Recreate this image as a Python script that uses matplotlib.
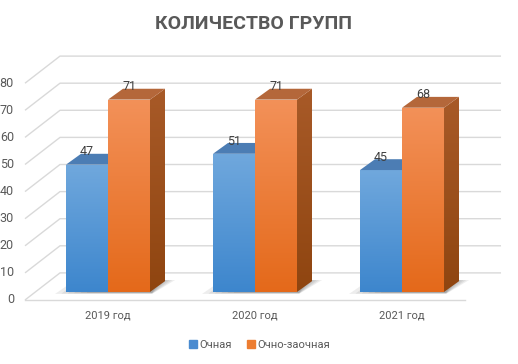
import numpy as np
import matplotlib
matplotlib.use("Agg")
import matplotlib.pyplot as plt
from matplotlib.patches import Polygon, Rectangle
from matplotlib.colors import LinearSegmentedColormap
from matplotlib.lines import Line2D

categories = ['2019 год', '2020 год', '2021 год']
series_names = ['Очная', 'Очно-заочная']
ochnaya = [47, 51, 45]
ochno_zaochnaya = [71, 71, 68]
y_ticks = [0, 10, 20, 30, 40, 50, 60, 70, 80]
title = 'КОЛИЧЕСТВО ГРУПП'

plt.rcParams['font.family'] = ['Roboto', 'DejaVu Sans']

fig = plt.figure(figsize=(5.18, 3.64), dpi=100)
ax = fig.add_axes([0, 0, 1, 1])
ax.axis('off')

# geometry (category units on x, value units on y)
bw = 0.2857          # bar width
ddx, ddy = 0.102, 4.0   # bar depth offset
floor_dy = -2.95      # front floor offset from bar base
wall_dx0, wall_dx1 = -0.5646, -0.3265
wall_right = 2.6735
floor_right = 2.4286
wall_dy = 10.0

grid_c = '#d9d9d9'
for L in y_ticks:
    yf = L + floor_dy
    yb = yf + wall_dy
    ax.plot([wall_dx0, wall_dx1, wall_right], [yf, yb, yb], color=grid_c, lw=1.0, zorder=1,
            solid_capstyle='butt')
    ax.text(-0.64, yf, str(L), ha='right', va='center', fontsize=9, color='#595959')
ax.plot([wall_dx0, floor_right], [floor_dy, floor_dy], color=grid_c, lw=1.0, zorder=1)


def grad_fill(patch, c_top, c_bot, x0, x1, y0, y1, z):
    ax.add_patch(patch)
    patch.set_facecolor('none')
    patch.set_edgecolor('none')
    patch.set_zorder(z)
    cmap = LinearSegmentedColormap.from_list('g', [c_bot, c_top])
    im = ax.imshow(np.linspace(0, 1, 256).reshape(-1, 1), extent=(x0, x1, y0, y1),
                   origin='lower', cmap=cmap, aspect='auto', zorder=z, interpolation='bilinear')
    im.set_clip_path(patch)


def bar3d(x0, v, front_top, front_bot, top_c, side_top, side_bot, z):
    x1 = x0 + bw
    # front
    grad_fill(Rectangle((x0, 0), bw, v), front_top, front_bot, x0, x1, 0, v, z)
    # side
    side = Polygon([(x1, 0), (x1 + ddx, ddy), (x1 + ddx, v + ddy), (x1, v)], closed=True)
    grad_fill(side, side_top, side_bot, x1, x1 + ddx, 0, v + ddy, z)
    # top
    ax.add_patch(Polygon([(x0, v), (x1, v), (x1 + ddx, v + ddy), (x0 + ddx, v + ddy)],
                         closed=True, facecolor=top_c, edgecolor='none', zorder=z))


def shadow(c):
    for k in range(6):
        s = 1 - k * 0.12
        pts = [(c - 0.36 * s - 0.0, -0.7 * s), (c + 0.30, -0.7 * s),
               (c + 0.30 + 0.156 * s, 4.4), (c - 0.224 * s, 4.4)]
        ax.add_patch(Polygon(pts, closed=True, facecolor='#202020', alpha=0.08,
                             edgecolor='none', zorder=2))


for i, (a, b) in enumerate(zip(ochnaya, ochno_zaochnaya)):
    shadow(i)
    bar3d(i - bw, a, '#70a8dd', '#3d86cd', '#4c7db4', '#3a6a9e', '#2e5a8a', 3 + i * 3)
    bar3d(i, b, '#f39159', '#e4691a', '#b4673a', '#a85a28', '#8f4510', 4 + i * 3)
    ax.text(i - bw / 2, a + ddy + 0.7, str(a), ha='center', va='center', fontsize=9,
            color='#404040', zorder=20)
    ax.text(i + bw / 2, b + ddy + 0.7, str(b), ha='center', va='center', fontsize=9,
            color='#404040', zorder=20)
    ax.text(i, -8.5, categories[i], ha='center', va='center', fontsize=8, color='#595959')

ax.set_xlim(-0.7347, 2.789)
ax.set_ylim(-26.57, 107.75)

fig.text(0.49, 0.935, title, ha='center', va='center', fontsize=14, fontweight='bold',
         color='#595959')

handles = [Line2D([], [], marker='s', ls='none', color='#4a8bd0', markersize=6),
           Line2D([], [], marker='s', ls='none', color='#ed7d31', markersize=6)]
fig.legend(handles, series_names, loc='center', bbox_to_anchor=(0.5, 0.052), ncol=2,
           frameon=False, fontsize=8, handletextpad=0.1, columnspacing=1.2,
           labelcolor='#595959', handlelength=1.0)

fig.savefig('out.png', dpi=100)
